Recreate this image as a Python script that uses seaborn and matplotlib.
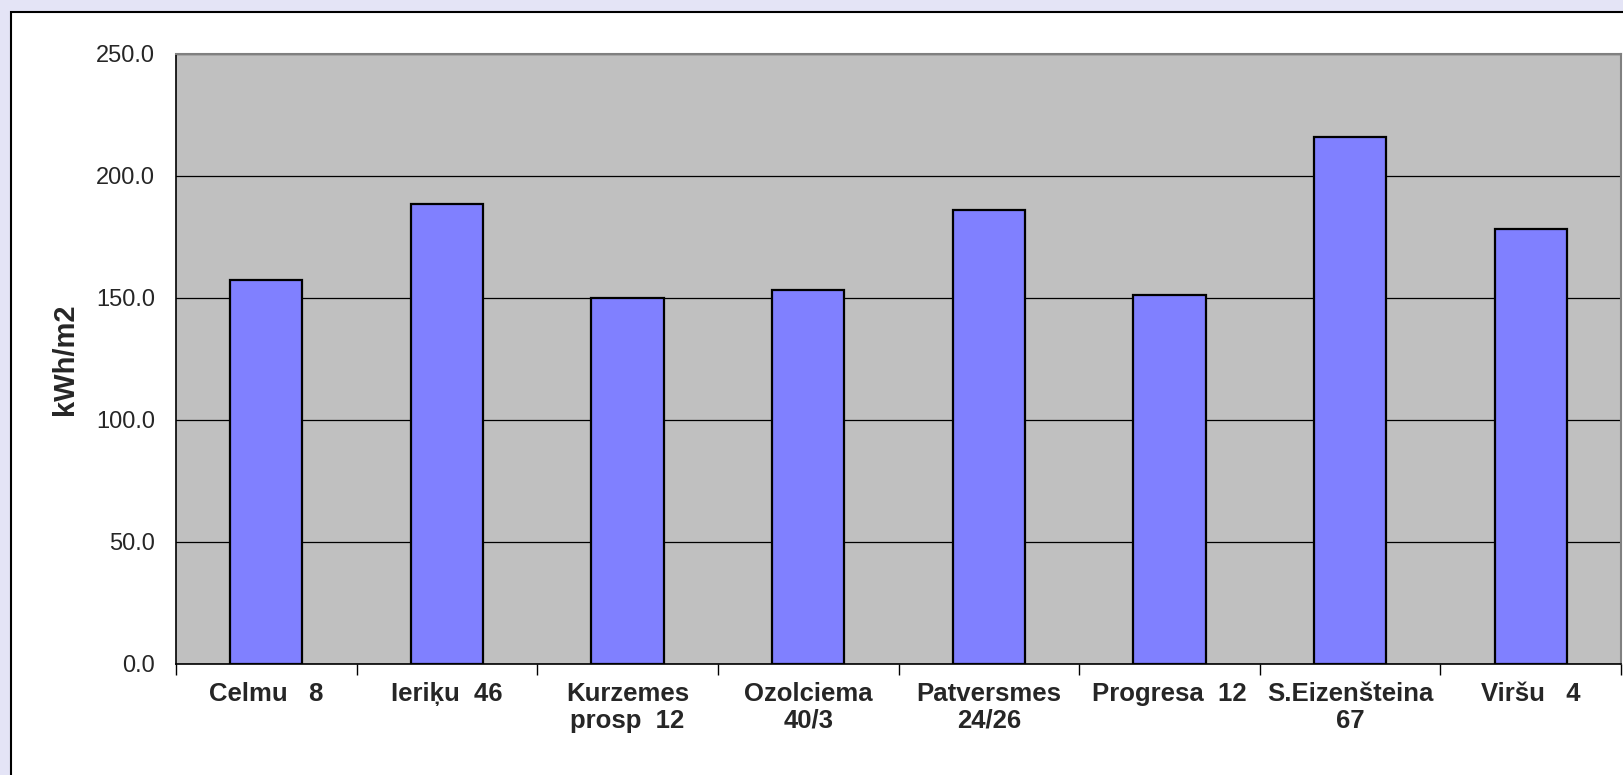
import matplotlib
matplotlib.use("Agg")
import matplotlib.pyplot as plt
from matplotlib.patches import Rectangle
from matplotlib.ticker import FixedLocator
import numpy as np
import pandas as pd
import seaborn as sns

sns.set_theme(style="white")
plt.rcParams["font.family"] = ["Liberation Sans", "DejaVu Sans"]

buildings = ["Celmu   8", "Ieriķu  46", "Kurzemes\nprosp  12", "Ozolciema\n40/3",
             "Patversmes\n24/26", "Progresa  12", "S.Eizenšteina\n67", "Viršu   4"]
kwh_m2 = [157.4, 188.4, 149.9, 153.3, 186.1, 151.2, 216.1, 178.4]
y_ticks = [0, 50, 100, 150, 200, 250]

df = pd.DataFrame({"building": buildings, "kwh": kwh_m2})

W, H = 1623, 775
fig = plt.figure(figsize=(W / 100, H / 100), dpi=100, facecolor="#E4E4F6")

# white slide panel behind the chart
panel = Rectangle((11 / W, -0.05), 1.2, (H - 12) / H + 0.05, transform=fig.transFigure,
                  facecolor="white", edgecolor="black", lw=1.5, zorder=-5)
fig.patches.append(panel)

ax = fig.add_axes([176 / W, 1 - 664 / H, (1621 - 176) / W, (664 - 54) / H])
ax.set_facecolor("#C0C0C0")
sns.barplot(data=df, x="building", y="kwh", ax=ax, color="#8080FF", saturation=1,
            width=0.4, edgecolor="black", linewidth=1.6, zorder=3)

ax.set_ylim(0, 250)
ax.set_xlim(-0.5, len(buildings) - 0.5)
ax.set_yticks(y_ticks)
ax.set_yticklabels([f"{v:.1f}" for v in y_ticks])
ax.yaxis.grid(True, color="black", lw=0.9, zorder=1)
ax.set_axisbelow(True)

ax.xaxis.set_minor_locator(FixedLocator(np.arange(-0.5, len(buildings), 1.0)))
ax.tick_params(axis="x", which="major", length=0, pad=13, labelsize=18.5)
ax.tick_params(axis="x", which="minor", length=8, width=1, color="black", direction="out")
ax.tick_params(axis="y", length=6, width=1, color="black", direction="out", pad=9, labelsize=17)
ax.tick_params(axis="x", which="major", bottom=False)
ax.xaxis.set_tick_params(which="minor", bottom=True)
for lab in ax.get_xticklabels():
    lab.set_fontweight("bold")
    lab.set_linespacing(1.15)

ax.set_xlabel("")
ax.set_ylabel("kWh/m2", fontsize=21, fontweight="bold", labelpad=12)

for side in ["left", "bottom"]:
    ax.spines[side].set_color("black")
    ax.spines[side].set_linewidth(1.2)
for side in ["top", "right"]:
    ax.spines[side].set_visible(True)
    ax.spines[side].set_color("#808080")
    ax.spines[side].set_linewidth(1.5)

fig.savefig("out.png", dpi=100, facecolor=fig.get_facecolor())
plt.close(fig)
